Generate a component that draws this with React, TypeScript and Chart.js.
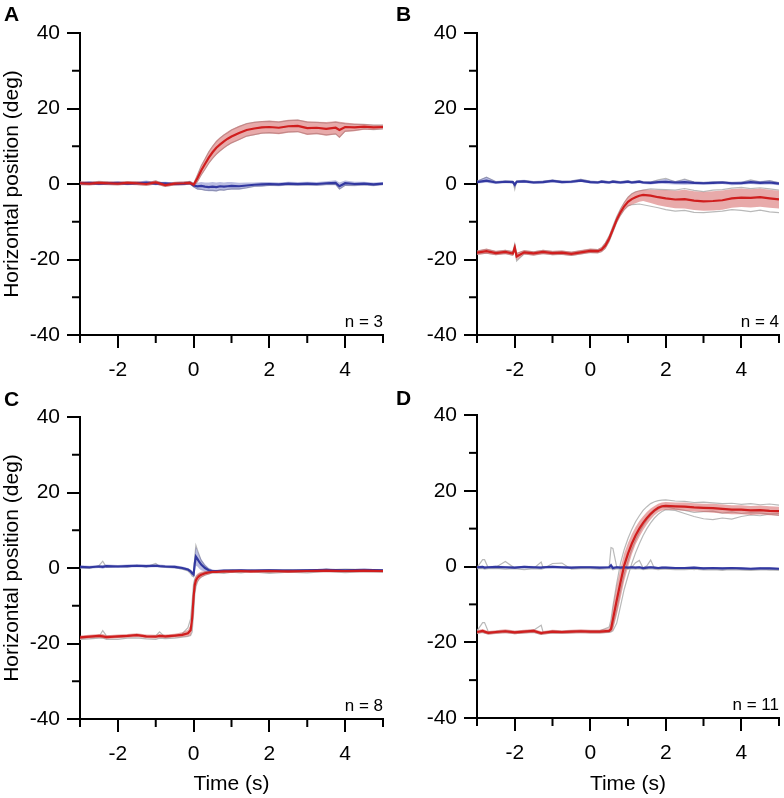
import React, { useEffect, useRef } from 'react';
import { Chart, registerables } from 'chart.js';

Chart.register(...registerables);

const FONT = '"Liberation Sans", Arial, Helvetica, sans-serif';
const PAGE_W = 784;
const PAGE_H = 798;

// ---------- tick definitions ----------
const X_MIN = -3;
const X_MAX = 5;
const Y_MIN = -40;
const Y_MAX = 40;
const X_MINOR = [-3, -1, 1, 3, 5];
const Y_MINOR = [-30, -10, 10, 30];

// ---------- Panel A ----------
const tA = [-3,-2.75,-2.5,-2.25,-2,-1.75,-1.5,-1.25,-1,-0.75,-0.5,-0.25,-0.1,0,0.1,0.2,0.3,0.4,0.5,0.6,0.7,0.8,0.9,1,1.2,1.4,1.6,1.8,2,2.25,2.5,2.75,3,3.25,3.5,3.75,3.85,4,4.25,4.5,4.75,5];
const redA = [0.2,0.1,0.3,0.2,0.1,0.3,0.2,0.0,0.4,-0.3,0.1,0.2,0.3,-0.2, 1.5,3.6,5.3,7.0,8.4,9.6,10.5,11.3,12.0,12.6, 13.5,14.3,14.7,15.0,15.1, 14.9,15.3,15.4,14.8, 14.9,14.6,14.9,14.3, 15.1,15.0,15.2,15.0,15.1];
const redAHi = [0.7,0.6,0.8,0.7,0.6,0.8,0.7,0.5,0.9,0.2,0.6,0.7,0.8,0.3, 2.6,5.0,6.9,8.7,10.2,11.5,12.4,13.2,13.9,14.5, 15.4,16.1,16.5,16.7,16.8, 16.6,17.0,17.1,16.6, 16.5,16.4,16.6,16.5, 16.3,16.0,15.9,15.7,15.7];
const redALo = [-0.3,-0.4,-0.2,-0.3,-0.4,-0.2,-0.3,-0.5,-0.1,-0.8,-0.4,-0.3,-0.2,-0.7, 0.4,2.2,3.7,5.3,6.6,7.7,8.6,9.4,10.1,10.7, 11.6,12.5,12.9,13.3,13.4, 13.2,13.6,13.7,13.0, 13.2,12.8,13.1,12.2, 13.8,14.0,14.4,14.3,14.5];
const blueA = [0.2,0.3,0.1,0.2,0.3,0.1,0.2,0.4,0.1,0.2,0.0,0.1,0.3,-0.4, -0.6,-0.5,-0.7,-0.8,-0.7,-0.8,-0.6,-0.7,-0.6,-0.5, -0.6,-0.4,-0.2,-0.1,0.0, -0.1,0.1,0.0,0.1, 0.0,0.2,0.3,-0.6, 0.2,0.0,0.1,-0.1,0.1];
const blueAHi = [0.6,0.7,0.5,0.6,0.7,0.5,0.6,0.9,0.5,0.6,0.4,0.5,0.7,0.1, 0.3,0.5,0.4,0.4,0.5,0.4,0.5,0.4,0.5,0.5, 0.3,0.4,0.4,0.5,0.5, 0.4,0.6,0.5,0.6, 0.5,0.7,1.0,0.4, 0.9,0.6,0.6,0.4,0.5];
const blueALo = [-0.2,-0.1,-0.3,-0.2,-0.1,-0.3,-0.2,0.0,-0.3,-0.2,-0.4,-0.3,-0.1,-0.9, -1.5,-1.6,-1.8,-1.9,-1.9,-2.0,-1.7,-1.8,-1.6,-1.5, -1.5,-1.2,-0.8,-0.7,-0.5, -0.6,-0.4,-0.5,-0.4, -0.5,-0.3,-0.3,-1.5, -0.5,-0.6,-0.4,-0.6,-0.3];
const grayA1 = [0.5,0.4,0.7,0.5,0.4,0.6,0.5,0.3,0.8,0.0,0.4,0.5,0.7,0.1, 2.4,4.8,6.6,8.5,10.0,11.2,12.2,13.0,13.6,14.3, 15.2,16.0,16.3,16.5,16.6, 16.4,16.8,16.9,16.4, 16.3,16.1,16.4,16.2, 16.0,15.8,15.8,15.6,15.6];
const grayA2 = [-0.1,-0.2,0.0,-0.1,-0.2,0.0,-0.1,-0.3,0.1,-0.6,-0.2,-0.1,0.0,-0.5, 0.6,2.4,3.9,5.5,6.8,7.9,8.8,9.6,10.3,10.9, 11.8,12.7,13.1,13.5,13.6, 13.4,13.8,13.9,13.2, 13.4,13.0,13.3,12.4, 14.0,14.2,14.6,14.4,14.6];
const grayA3 = [0.0,0.1,-0.1,0.0,0.1,-0.1,0.0,0.2,-0.1,0.0,-0.2,-0.1,0.1,-0.7, -1.3,-1.4,-1.6,-1.7,-1.7,-1.8,-1.5,-1.6,-1.4,-1.3, -1.3,-1.0,-0.6,-0.5,-0.3, -0.4,-0.2,-0.3,-0.2, -0.3,-0.1,-0.1,-1.3, -0.3,-0.4,-0.2,-0.4,-0.1];

// ---------- Panel B ----------
const tB = [-3,-2.75,-2.5,-2.25,-2.05,-2,-1.95,-1.75,-1.5,-1.25,-1,-0.75,-0.5,-0.25,0,0.2,0.3,0.4,0.5,0.6,0.7,0.8,0.9,1,1.1,1.2,1.3,1.4,1.6,1.8,2,2.25,2.5,2.75,3,3.25,3.5,3.75,4,4.25,4.5,4.75,5];
const redB = [-18.2,-17.8,-18.3,-18.0, -18.4,-16.8,-19.2, -18.1,-18.4,-18.0,-18.3, -18.2,-18.5,-18.1,-17.7, -17.8,-17.4, -16.3,-14.5,-12.0,-9.5,-7.5,-5.9,-4.7,-4.0,-3.5,-3.1,-2.9, -3.1,-3.5,-3.8, -4.1,-4.0,-4.4,-4.6, -4.5,-4.3,-3.8,-3.6, -3.7,-3.5,-3.8,-4.1];
const redBHi = [-17.6,-17.1,-17.7,-17.4, -17.8,-15.8,-18.2, -17.5,-17.8,-17.4,-17.7, -17.6,-17.9,-17.5,-17.1, -17.2,-16.7, -15.4,-13.6,-11.1,-8.6,-6.5,-4.8,-3.4,-2.5,-2.0,-1.7,-1.5, -1.5,-1.6,-1.6, -1.8,-1.5,-1.9,-2.1, -1.9,-1.7,-1.3,-1.2, -1.4,-1.2,-1.5,-1.8];
const redBLo = [-18.8,-18.5,-18.9,-18.6, -19.0,-17.8,-20.2, -18.7,-19.0,-18.6,-18.9, -18.8,-19.1,-18.7,-18.3, -18.4,-18.1, -17.2,-15.4,-12.9,-10.4,-8.5,-7.0,-6.0,-5.5,-5.1,-4.7,-4.5, -5.0,-5.6,-6.0, -6.4,-6.5,-6.9,-7.1, -7.0,-6.8,-6.3,-6.1, -6.2,-6.0,-6.3,-6.5];
const blueB = [0.5,0.9,0.4,0.6, 0.5,-0.2,0.6, 0.7,0.4,0.5,0.8, 0.5,0.6,0.9,0.5, 0.4,0.6, 0.5,0.4,0.6,0.5,0.4,0.5,0.6,0.4,0.5,0.6,0.4, 0.3,0.5,0.6, 0.4,0.5,0.3,0.2, 0.3,0.4,0.2,0.2, 0.5,0.3,0.4,0.1];
const blueBHi = [0.9,1.9,0.8,1.0, 0.9,0.4,1.0, 1.1,0.8,0.9,1.2, 0.9,1.0,1.4,0.9, 0.8,1.0, 0.9,0.8,1.0,0.9,0.8,0.9,1.0,0.8,0.9,1.0,0.8, 0.7,1.0,1.3, 0.8,1.2,0.7,0.6, 0.7,0.8,0.6,0.7, 1.0,0.8,1.0,0.5];
const blueBLo = [0.1,0.3,0.0,0.2, 0.1,-1.2,0.2, 0.3,0.0,0.1,0.4, 0.1,0.2,0.5,0.1, 0.0,0.2, 0.1,0.0,0.2,0.1,0.0,0.1,0.2,0.0,0.1,0.2,0.0, -0.1,0.1,0.0, -0.1,-0.2,-0.1,-0.2, -0.1,0.0,-0.3,-0.2, 0.0,-0.2,-0.1,-0.3];
const grayB1 = [-17.8,-17.3,-17.9,-17.6, -17.9,-15.9,-18.4, -17.7,-18.0,-17.6,-17.9, -17.8,-18.1,-17.7,-17.3, -17.4,-16.9, -15.6,-13.8,-11.2,-8.7,-6.6,-4.9,-3.5,-2.6,-2.1,-1.8,-1.6, -1.3,-1.4,-1.5, -1.6,-1.2,-1.7,-2.0, -1.6,-1.5,-1.1,-0.9, -1.2,-1.0,-1.3,-1.6];
const grayB2 = [-18.6,-18.3,-18.7,-18.4, -18.9,-17.2,-20.4, -18.5,-18.8,-18.4,-18.7, -18.6,-18.9,-18.5,-18.1, -18.2,-17.9, -17.0,-15.2,-12.7,-10.2,-8.3,-6.8,-5.8,-5.5,-5.4,-5.3,-5.5, -5.9,-6.3,-6.8, -7.2,-7.0,-7.5,-7.6, -7.4,-7.2,-6.8,-7.0, -7.3,-6.9,-7.4,-7.6];
const grayB3 = [0.7,1.8,0.6,0.8, 0.7,-1.4,0.8, 0.9,0.6,0.7,1.0, 0.7,0.8,1.2,0.7, 0.6,0.8, 0.7,0.6,0.8,0.7,0.6,0.7,0.8,0.6,0.7,0.8,0.6, 0.5,1.1,1.5, 0.6,1.3,0.5,0.4, 0.5,0.6,0.3,0.4, 1.1,0.5,0.9,0.3];

// ---------- Panel C ----------
const tC = [-3,-2.75,-2.5,-2.4,-2.3,-2,-1.75,-1.5,-1.25,-1,-0.9,-0.75,-0.5,-0.3,-0.15,-0.08,-0.04,0,0.03,0.06,0.1,0.15,0.2,0.3,0.4,0.5,0.6,0.8,1,1.25,1.5,2,2.5,3,3.5,4,4.5,5];
const redC = [-18.4,-18.2,-18.0,-18.1,-18.3, -18.1,-18.0,-17.8,-18.1,-18.2, -18.0,-18.1,-17.9,-17.7,-17.3, -16.5,-13.5,-7.5,-4.5,-3.3, -2.6,-2.1,-1.8,-1.4,-1.2, -1.0,-1.0,-0.9,-0.9,-0.8, -0.9,-0.8,-0.9,-0.8,-0.7, -0.8,-0.7,-0.8];
const redCHi = [-17.9,-17.7,-17.5,-17.5,-17.8, -17.6,-17.5,-17.3,-17.6,-17.7, -17.5,-17.6,-17.4,-17.0,-16.4, -15.0,-10.5,-4.5,-2.8,-2.0, -1.5,-1.2,-1.0,-0.8,-0.7, -0.6,-0.6,-0.5,-0.5,-0.4, -0.5,-0.4,-0.5,-0.4,-0.3, -0.4,-0.3,-0.4];
const redCLo = [-18.9,-18.7,-18.5,-18.6,-18.8, -18.6,-18.5,-18.3,-18.6,-18.7, -18.5,-18.6,-18.4,-18.3,-18.1, -17.8,-16.5,-11.5,-6.8,-4.9, -3.8,-3.0,-2.6,-2.0,-1.7, -1.4,-1.4,-1.3,-1.3,-1.2, -1.3,-1.2,-1.3,-1.2,-1.1, -1.2,-1.1,-1.2];
const blueC = [0.3,0.2,0.4,0.3,0.5, 0.4,0.5,0.6,0.5,0.6, 0.5,0.4,0.3,0.0,-0.4, -0.9,-1.4,-1.7,1.2,3.0, 2.4,1.6,0.9,0.0,-0.6, -0.8,-0.8,-0.7,-0.7,-0.6, -0.7,-0.6,-0.7,-0.6,-0.5, -0.6,-0.5,-0.6];
const blueCHi = [0.7,0.6,0.8,0.8,0.9, 0.8,0.9,1.0,0.9,1.0, 0.9,0.8,0.7,0.4,0.0, -0.4,-0.8,-0.9,3.5,5.6, 4.6,3.5,2.4,1.0,0.0, -0.4,-0.5,-0.4,-0.4,-0.3, -0.4,-0.3,-0.4,-0.3,-0.2, -0.3,-0.2,-0.3];
const blueCLo = [-0.1,-0.2,0.0,-0.2,0.1, 0.0,0.1,0.2,0.1,0.2, 0.1,0.0,-0.1,-0.4,-0.8, -1.4,-2.0,-2.5,-1.0,0.6, 0.4,-0.2,-0.6,-1.0,-1.2, -1.2,-1.1,-1.0,-1.0,-0.9, -1.0,-0.9,-1.0,-0.9,-0.8, -0.9,-0.8,-0.9];
const grayC1 = [-18.6,-18.4,-18.2,-16.6,-18.0, -18.4,-18.1,-17.6,-18.3,-18.0, -16.9,-18.3,-18.1,-17.4,-15.8, -13.5,-9.0,-4.0,-3.0,-2.4, -2.0,-1.6,-1.4,-1.1,-0.9, -0.7,-0.8,-0.6,-0.5,-0.6, -0.7,-0.4,-0.6,-0.4,-0.5, -0.3,-0.4,-0.6];
const grayC2 = [-18.9,-18.8,-18.6,-18.5,-18.9, -18.9,-18.6,-18.5,-18.8,-18.9, -18.6,-18.7,-18.6,-18.3,-18.1, -17.9,-17.0,-12.0,-7.0,-5.0, -3.7,-2.9,-2.4,-1.9,-1.6, -1.3,-1.2,-1.4,-1.1,-1.3, -1.0,-1.4,-1.1,-1.3,-0.9, -1.2,-1.0,-1.1];
const grayC3 = [0.0,-0.1,0.6,1.8,0.2, 0.5,0.2,0.7,0.3,1.2, 0.4,0.2,0.1,-0.3,-0.8, -1.5,-2.1,-2.3,3.0,6.0, 4.8,3.4,2.0,0.6,-0.3, -0.9,-0.6,-1.2,-0.4,-1.1, -0.5,-1.2,-0.4,-1.0,-0.3, -0.9,-0.4,-1.0];

// ---------- Panel D ----------
const tD = [-3,-2.85,-2.8,-2.7,-2.5,-2.25,-2,-1.75,-1.5,-1.3,-1.25,-1,-0.75,-0.5,-0.25,0,0.25,0.5,0.55,0.6,0.7,0.8,0.9,1,1.1,1.2,1.3,1.4,1.5,1.6,1.7,1.8,1.9,2,2.25,2.5,2.75,3,3.25,3.5,3.75,4,4.25,4.5,4.75,5];
const redD = [-17.3,-17.0,-17.2,-17.5,-17.3, -17.1,-17.4,-17.2,-17.0,-17.6, -17.5,-17.2,-17.3,-17.2,-17.1, -17.2,-17.2,-17.0,-16.5,-14.0, -9.0,-4.2,0.3,3.4,6.0, 8.2,10.0,11.5,12.8,13.9, 14.8,15.5,15.9,16.0,15.9, 15.8,15.6,15.5,15.4,15.2, 15.0,15.0,14.8,14.9,14.7, 14.6];
const redDHi = [-16.8,-16.5,-16.7,-17.0,-16.8, -16.6,-16.9,-16.7,-16.5,-17.1, -17.0,-16.7,-16.8,-16.7,-16.6, -16.7,-16.7,-16.3,-14.5,-10.5, -5.0,-0.5,3.5,6.2,8.5, 10.4,12.0,13.3,14.4,15.3, 16.0,16.6,16.9,17.0,16.9, 16.9,16.7,16.6,16.6,16.4, 16.2,16.2,16.0,16.1,15.9, 15.8];
const redDLo = [-17.8,-17.5,-17.7,-18.0,-17.8, -17.6,-17.9,-17.7,-17.5,-18.1, -18.0,-17.7,-17.8,-17.7,-17.6, -17.7,-17.7,-17.5,-17.3,-16.8, -13.0,-8.5,-3.8,-0.2,3.2, 5.8,7.8,9.6,11.1,12.4, 13.5,14.3,14.8,15.0,14.9, 14.7,14.5,14.4,14.2,14.0, 13.8,13.8,13.6,13.7,13.5, 13.4];
const blueD = [-0.2,-0.1,-0.3,-0.2,-0.1, -0.2,-0.3,-0.1,-0.2,-0.3, -0.2,-0.1,-0.2,-0.3,-0.2, -0.2,-0.3,-0.2,0.3,-0.4, -0.2,-0.3,-0.2,-0.3,-0.2, -0.3,-0.2,-0.4,-0.3,-0.2, -0.3,-0.4,-0.3,-0.3,-0.4, -0.4,-0.3,-0.5,-0.4,-0.5, -0.4,-0.5,-0.6,-0.5,-0.5, -0.6];
const blueDHi = [0.1,0.2,0.0,0.1,0.2, 0.1,0.0,0.2,0.1,0.0, 0.1,0.2,0.1,0.0,0.1, 0.1,0.0,0.1,0.9,0.0, 0.1,0.0,0.1,0.0,0.1, 0.0,0.1,-0.1,0.0,0.1, 0.0,-0.1,0.0,0.0,-0.1, -0.1,0.0,-0.2,-0.1,-0.2, -0.1,-0.2,-0.3,-0.2,-0.2, -0.3];
const blueDLo = [-0.5,-0.4,-0.6,-0.5,-0.4, -0.5,-0.6,-0.4,-0.5,-0.6, -0.5,-0.4,-0.5,-0.6,-0.5, -0.5,-0.6,-0.5,-0.5,-0.8, -0.5,-0.6,-0.5,-0.6,-0.5, -0.6,-0.5,-0.7,-0.6,-0.5, -0.6,-0.7,-0.6,-0.6,-0.7, -0.7,-0.6,-0.8,-0.7,-0.8, -0.7,-0.8,-0.9,-0.8,-0.8, -0.9];
const grayD1 = [-17.0,-14.8,-14.8,-17.2,-17.1, -16.9,-17.2,-17.0,-16.8,-15.5, -17.3,-17.0,-17.1,-16.9,-16.9, -17.0,-17.0,-16.0,-14.0,-10.5, -4.5,0.8,4.5,7.4,9.8, 11.8,13.4,14.8,15.8,16.6, 17.1,17.4,17.5,17.6,17.3, 17.2,16.9,17.0,16.8,16.6, 16.7,16.4,16.6,16.3,16.5, 16.2];
const grayD2 = [-17.6,-17.4,-17.6,-17.8,-17.6, -17.4,-17.7,-17.5,-17.4,-17.9, -17.8,-17.5,-17.6,-17.5,-17.4, -17.5,-17.5,-17.4,-17.3,-17.0, -15.0,-10.5,-6.0,-2.5,0.8, 3.6,6.0,8.2,10.0,11.5, 12.8,13.8,14.5,15.0,14.8, 14.0,13.2,12.6,12.4,12.8, 12.5,13.2,13.6,13.4,13.8, 13.5];
const grayD3 = [-0.3,1.8,1.8,-0.4,-0.2, 1.3,-0.4,-0.2,-0.5,1.2, -0.3,-0.2,-0.4,-0.3,-0.5, -0.3,-0.4,-0.3,5.0,4.8, 0.0,-0.4,-0.3,-0.5,-0.2, 1.0,1.6,-0.4,0.2,1.7, -0.5,-0.3,-0.6,-0.4,-0.6, -0.3,-0.8,-0.4,-0.6,-1.0, -0.4,-0.8,-0.9,-0.5,-0.9, -0.7];
const grayD4 = [-17.5,-17.2,-17.4,-17.6,-17.5, -17.3,-17.6,-17.4,-17.2,-17.7, -17.6,-17.4,-17.5,-17.4,-17.3, -17.4,-17.4,-17.2,-17.0,-15.8, -11.5,-6.5,-2.0,1.5,4.5, 7.0,9.0,10.8,12.3,13.5, 14.5,15.2,15.7,15.8,15.2, 14.8,14.3,14.5,14.6,14.1, 14.4,14.0,14.2,14.1,13.9, 14.0];
const grayD5 = [-0.6,-0.5,-0.7,-0.6,-0.5, -0.7,-0.6,-0.8,-0.6,-0.7, -0.6,0.8,0.9,-0.7,-0.6, -0.6,-0.7,-0.6,-0.5,-0.9, -0.6,-0.7,-0.5,-0.7,-0.6, -0.7,-0.6,-0.8,-0.7,-0.6, -0.7,-0.8,-0.7,-0.7,-0.8, -0.8,-0.7,-0.9,-0.8,-0.9, -0.8,-0.9,-1.0,-0.9,-0.9, -1.0];

// ---------- panel descriptors ----------
type Area = { left: number; top: number; right: number; bottom: number };
type Panel = {
  letter: string; nText: string; area: Area; letterPos: [number, number];
  yTitle: boolean; xTitle: boolean;
  t: number[]; red: number[]; redLo: number[]; redHi: number[];
  blue: number[]; blueLo: number[]; blueHi: number[]; grays: number[][];
};

const PANELS: Panel[] = [
  { letter: 'A', nText: 'n = 3', area: { left: 80, top: 33, right: 383, bottom: 335 }, letterPos: [4, 21], yTitle: true, xTitle: false,
    t: tA, red: redA, redLo: redALo, redHi: redAHi, blue: blueA, blueLo: blueALo, blueHi: blueAHi, grays: [grayA1, grayA2, grayA3] },
  { letter: 'B', nText: 'n = 4', area: { left: 477, top: 33, right: 779, bottom: 335 }, letterPos: [396, 21], yTitle: false, xTitle: false,
    t: tB, red: redB, redLo: redBLo, redHi: redBHi, blue: blueB, blueLo: blueBLo, blueHi: blueBHi, grays: [grayB1, grayB2, grayB3] },
  { letter: 'C', nText: 'n = 8', area: { left: 80, top: 417, right: 383, bottom: 719 }, letterPos: [4, 406], yTitle: true, xTitle: true,
    t: tC, red: redC, redLo: redCLo, redHi: redCHi, blue: blueC, blueLo: blueCLo, blueHi: blueCHi, grays: [grayC1, grayC2, grayC3] },
  { letter: 'D', nText: 'n = 11', area: { left: 477, top: 415, right: 779, bottom: 718 }, letterPos: [396, 405], yTitle: false, xTitle: true,
    t: tD, red: redD, redLo: redDLo, redHi: redDHi, blue: blueD, blueLo: blueDLo, blueHi: blueDHi, grays: [grayD1, grayD2, grayD3, grayD4, grayD5] },
];

const RED = 'rgb(208,30,30)';
const BLUE = 'rgb(50,56,160)';
const RED_BAND = 'rgba(210,85,85,0.5)';
const BLUE_BAND = 'rgba(70,80,175,0.38)';
const GRAY = 'rgb(185,185,185)';

function PanelChart({ p }: { p: Panel }) {
  const ref = useRef<HTMLCanvasElement>(null);
  useEffect(() => {
    if (!ref.current) return;
    const pts = (arr: number[]) => p.t.map((x, i) => ({ x, y: arr[i] }));
    const base = { pointRadius: 0, pointHoverRadius: 0, tension: 0 };
    const datasets: any[] = [];
    p.grays.forEach((g) => datasets.push({ ...base, data: pts(g), borderColor: GRAY, borderWidth: 1.2, fill: false, order: 5 }));
    datasets.push({ ...base, data: pts(p.blueLo), borderColor: 'rgba(0,0,0,0)', borderWidth: 1, fill: false, order: 4 });
    datasets.push({ ...base, data: pts(p.blueHi), borderColor: 'rgba(0,0,0,0)', borderWidth: 1, fill: '-1', backgroundColor: BLUE_BAND, order: 4 });
    datasets.push({ ...base, data: pts(p.redLo), borderColor: 'rgba(0,0,0,0)', borderWidth: 1, fill: false, order: 3 });
    datasets.push({ ...base, data: pts(p.redHi), borderColor: 'rgba(0,0,0,0)', borderWidth: 1, fill: '-1', backgroundColor: RED_BAND, order: 3 });
    datasets.push({ ...base, data: pts(p.blue), borderColor: BLUE, borderWidth: 2.2, fill: false, order: 1 });
    datasets.push({ ...base, data: pts(p.red), borderColor: RED, borderWidth: 2.2, fill: false, order: 0 });

    const a = p.area;
    const tickFont = { family: FONT, size: 21 };

    const decor = {
      id: 'decor',
      afterDraw(chart: any) {
        const { ctx, chartArea, scales } = chart;
        ctx.save();
        ctx.strokeStyle = '#000';
        ctx.lineWidth = 2;
        for (const v of X_MINOR) {
          const px = scales.x.getPixelForValue(v);
          ctx.beginPath();
          ctx.moveTo(px, chartArea.bottom);
          ctx.lineTo(px, chartArea.bottom + 8);
          ctx.stroke();
        }
        for (const v of Y_MINOR) {
          const py = scales.y.getPixelForValue(v);
          ctx.beginPath();
          ctx.moveTo(chartArea.left, py);
          ctx.lineTo(chartArea.left - 8, py);
          ctx.stroke();
        }
        ctx.fillStyle = '#000';
        ctx.font = `17px ${FONT}`;
        ctx.textAlign = 'right';
        ctx.textBaseline = 'alphabetic';
        ctx.fillText(p.nText, chartArea.right, chartArea.bottom - 8);
        ctx.font = `bold 21px ${FONT}`;
        ctx.textAlign = 'left';
        ctx.fillText(p.letter, p.letterPos[0], p.letterPos[1]);
        ctx.restore();
      },
    };

    const chart = new Chart(ref.current, {
      type: 'line',
      data: { datasets },
      options: {
        animation: false,
        responsive: false,
        devicePixelRatio: 1,
        events: [],
        layout: { padding: { left: 0, top: a.top, right: PAGE_W - a.right, bottom: 0 } },
        plugins: { legend: { display: false }, tooltip: { enabled: false }, title: { display: false } },
        scales: {
          x: {
            type: 'linear', min: X_MIN, max: X_MAX,
            ticks: {
              stepSize: 1, autoSkip: false, maxRotation: 0, color: '#000', font: tickFont, padding: 10,
              callback: (v: any) => (Number(v) % 2 === 0 ? String(v) : ''),
            },
            grid: {
              display: true, drawOnChartArea: false, drawTicks: true, tickLength: 13, tickWidth: 2, lineWidth: 2,
              tickColor: (c: any) => (c.tick && Math.abs(c.tick.value % 2) === 0 ? '#000' : 'rgba(0,0,0,0)'),
              color: 'rgba(0,0,0,0)',
            },
            border: { display: true, color: '#000', width: 2 },
            title: { display: p.xTitle, text: 'Time (s)', color: '#000', font: { family: FONT, size: 21 }, padding: { top: 0, bottom: 1 } },
            afterFit: (s: any) => { s.height = PAGE_H - a.bottom; s.paddingLeft = 0; s.paddingRight = 0; },
          },
          y: {
            type: 'linear', min: Y_MIN, max: Y_MAX,
            ticks: {
              stepSize: 10, autoSkip: false, color: '#000', font: tickFont, padding: 7,
              callback: (v: any) => (Number(v) % 20 === 0 ? String(v) : ''),
            },
            grid: {
              display: true, drawOnChartArea: false, drawTicks: true, tickLength: 13, tickWidth: 2, lineWidth: 2,
              tickColor: (c: any) => (c.tick && Math.abs(c.tick.value % 20) === 0 ? '#000' : 'rgba(0,0,0,0)'),
              color: 'rgba(0,0,0,0)',
            },
            border: { display: true, color: '#000', width: 2 },
            title: { display: p.yTitle, text: 'Horizontal position (deg)', color: '#000', font: { family: FONT, size: 21 }, padding: { top: 0, bottom: 0 } },
            afterFit: (s: any) => { s.width = a.left; s.paddingTop = 0; s.paddingBottom = 0; },
          },
        },
      } as any,
      plugins: [decor],
    });
    return () => chart.destroy();
  }, [p]);

  return (
    <canvas
      ref={ref}
      width={PAGE_W}
      height={PAGE_H}
      style={{ position: 'absolute', left: 0, top: 0, width: PAGE_W, height: PAGE_H }}
    />
  );
}

export default function App() {
  return (
    <div style={{ position: 'absolute', left: 0, top: 0, width: PAGE_W, height: PAGE_H, background: '#fff', overflow: 'hidden' }}>
      {PANELS.map((p) => (
        <PanelChart key={p.letter} p={p} />
      ))}
    </div>
  );
}
